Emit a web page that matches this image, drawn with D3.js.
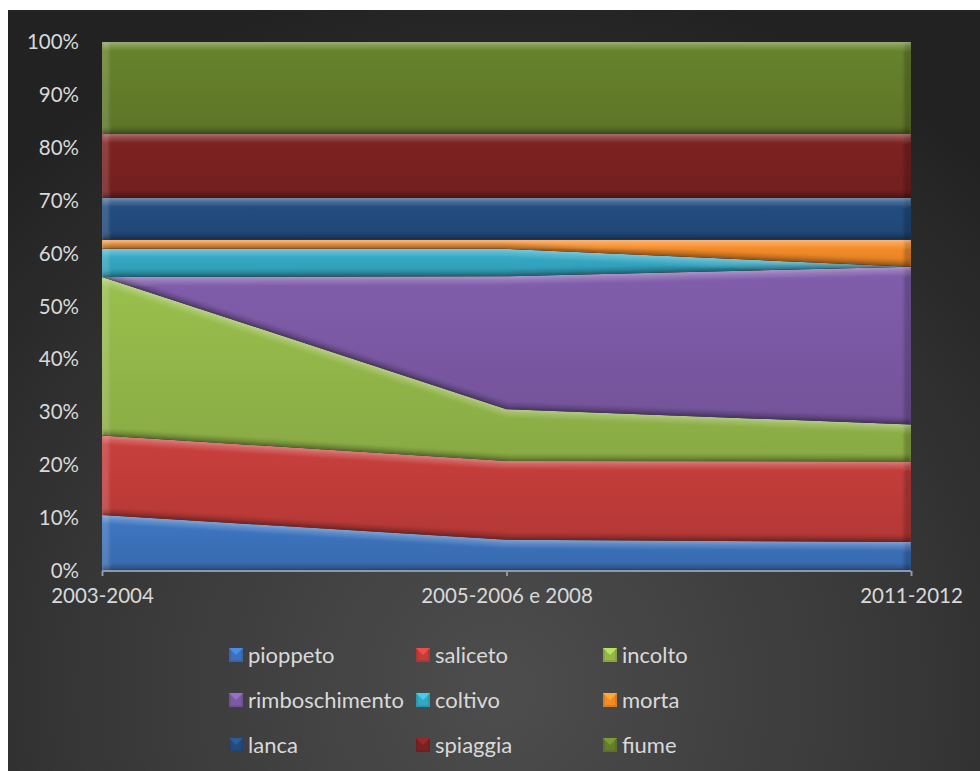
<!DOCTYPE html>
<html><head><meta charset="utf-8">
<script src="https://cdn.jsdelivr.net/npm/d3@7"></script>
<style>html,body{margin:0;padding:0;background:#fff;}svg{display:block;}</style>
</head><body>
<script>
const categories = ["2003-2004", "2005-2006 e 2008", "2011-2012"];
const seriesNames = ["pioppeto","saliceto","incolto","rimboschimento","coltivo","morta","lanca","spiaggia","fiume"];
const pioppeto       = [10.6, 5.9, 5.5];
const saliceto       = [15.0, 14.9, 15.2];
const incolto        = [30.0, 9.8, 7.0];
const rimboschimento = [0.0, 25.1, 29.8];
const coltivo        = [5.3, 5.2, 0.0];
const morta          = [1.7, 1.7, 5.1];
const lanca          = [7.9, 7.9, 7.9];
const spiaggia       = [12.1, 12.1, 12.1];
const fiume          = [17.4, 17.4, 17.4];
const yTicks = [0,0.1,0.2,0.3,0.4,0.5,0.6,0.7,0.8,0.9,1.0];
const colors = ["#3b72bb","#c23d3a","#94b84a","#7c5aa5","#34a7c2","#f28a28","#224c7d","#7a2221","#647e2b"];

const values = {pioppeto,saliceto,incolto,rimboschimento,coltivo,morta,lanca,spiaggia,fiume};
const rows = categories.map((c,i)=>{
  const r = {cat:c};
  let tot = 0;
  seriesNames.forEach(s=>tot += values[s][i]);
  seriesNames.forEach(s=>r[s] = values[s][i]/tot);
  return r;
});

const W = 980, H = 771;
const svg = d3.select("body").append("svg").attr("width",W).attr("height",H);
const defs = svg.append("defs");
const bg = defs.append("radialGradient").attr("id","bg")
  .attr("gradientUnits","userSpaceOnUse").attr("cx",500).attr("cy",690).attr("r",720);
bg.append("stop").attr("offset","0").attr("stop-color","#4d4d4d");
bg.append("stop").attr("offset","0.55").attr("stop-color","#383838");
bg.append("stop").attr("offset","1").attr("stop-color","#222222");
defs.append("filter").attr("id","soft").attr("x","-5%").attr("y","-5%").attr("width","110%").attr("height","110%")
  .append("feGaussianBlur").attr("stdDeviation",1.6);

svg.append("rect").attr("x",8).attr("y",10).attr("width",W-8).attr("height",H-10).attr("fill","url(#bg)");

const x = d3.scalePoint().domain(categories).range([102, 911]);
const y = d3.scaleLinear().domain([0,1]).range([571, 42]);

const stack = d3.stack().keys(seriesNames);
const layers = stack(rows);

const area = d3.area().x(d=>x(d.data.cat)).y0(d=>y(d[0])).y1(d=>y(d[1]));
const topLine = d3.line().x(d=>x(d.data.cat)).y(d=>y(d[1]));
const botLine = d3.line().x(d=>x(d.data.cat)).y(d=>y(d[0]));

layers.forEach((L,i)=>{
  const col = d3.color(colors[i]);
  const gid = "g"+i;
  const g = defs.append("linearGradient").attr("id",gid).attr("x1",0).attr("y1",0).attr("x2",0).attr("y2",1);
  g.append("stop").attr("offset","0").attr("stop-color",col.brighter(0.12));
  g.append("stop").attr("offset","1").attr("stop-color",col.darker(0.22));
  defs.append("clipPath").attr("id","c"+i).append("path").attr("d",area(L));
  const grp = svg.append("g").attr("clip-path","url(#c"+i+")");
  grp.append("path").attr("d",area(L)).attr("fill","url(#"+gid+")");
  const n = L.length;
  const leftEdge = `M${x(categories[0])},${y(L[0][1])}L${x(categories[0])},${y(L[0][0])}`;
  const rightEdge = `M${x(categories[n-1])},${y(L[n-1][1])}L${x(categories[n-1])},${y(L[n-1][0])}`;
  const bev = grp.append("g").attr("filter","url(#soft)");
  bev.append("path").attr("d",leftEdge).attr("fill","none").attr("stroke","#fff").attr("stroke-opacity",0.14).attr("stroke-width",14);
  bev.append("path").attr("d",rightEdge).attr("fill","none").attr("stroke","#000").attr("stroke-opacity",0.2).attr("stroke-width",14);
  bev.append("path").attr("d",topLine(L)).attr("fill","none").attr("stroke","#fff").attr("stroke-opacity",0.14).attr("stroke-width",14);
  bev.append("path").attr("d",topLine(L)).attr("fill","none").attr("stroke","#fff").attr("stroke-opacity",0.22).attr("stroke-width",5);
  bev.append("path").attr("d",botLine(L)).attr("fill","none").attr("stroke","#000").attr("stroke-opacity",0.15).attr("stroke-width",12);
  bev.append("path").attr("d",botLine(L)).attr("fill","none").attr("stroke","#000").attr("stroke-opacity",0.3).attr("stroke-width",4);
});

const xAxis = d3.axisBottom(x).tickSize(5).tickPadding(12).tickFormat(d=>d);
const ax = svg.append("g").attr("transform",`translate(0,${y(0)})`).call(xAxis);
ax.select(".domain").attr("stroke","#8f99a4").attr("stroke-width",2).attr("d",`M${x(categories[0])},0H${x(categories[2])}`);
ax.selectAll(".tick line").attr("stroke","#8f99a4").attr("stroke-width",2);
ax.selectAll(".tick text").attr("fill","#d9d9d9").attr("font-family","Lato, sans-serif").attr("font-size",20.5).attr("dy","0.71em");

const yAxis = d3.axisLeft(y).tickValues(yTicks).tickSize(0).tickPadding(23).tickFormat(d3.format(".0%"));
const ay = svg.append("g").attr("transform",`translate(${x(categories[0])},0)`).call(yAxis);
ay.select(".domain").remove();
ay.selectAll(".tick text").attr("fill","#d9d9d9").attr("font-family","Lato, sans-serif").attr("font-size",20.5);

const legX = [229, 416, 603];
const legY = [655, 700, 745];
const leg = svg.append("g");
seriesNames.forEach((s,i)=>{
  const cx = legX[i%3], cy = legY[Math.floor(i/3)];
  const col = d3.color(colors[i]);
  const g = leg.append("g").attr("transform",`translate(${cx},${cy})`);
  g.append("rect").attr("x",0).attr("y",-7).attr("width",14).attr("height",14).attr("fill",col.darker(0.3));
  g.append("rect").attr("x",2).attr("y",-5).attr("width",10).attr("height",10).attr("fill",col);
  g.append("path").attr("d","M0,-7H14L7,0Z").attr("fill",col.brighter(0.6));
  g.append("text").attr("x",19).attr("y",0).attr("dy","0.35em").attr("fill","#d9d9d9")
    .attr("font-family","Lato, sans-serif").attr("font-size",22).text(s);
});
</script>
</body></html>
